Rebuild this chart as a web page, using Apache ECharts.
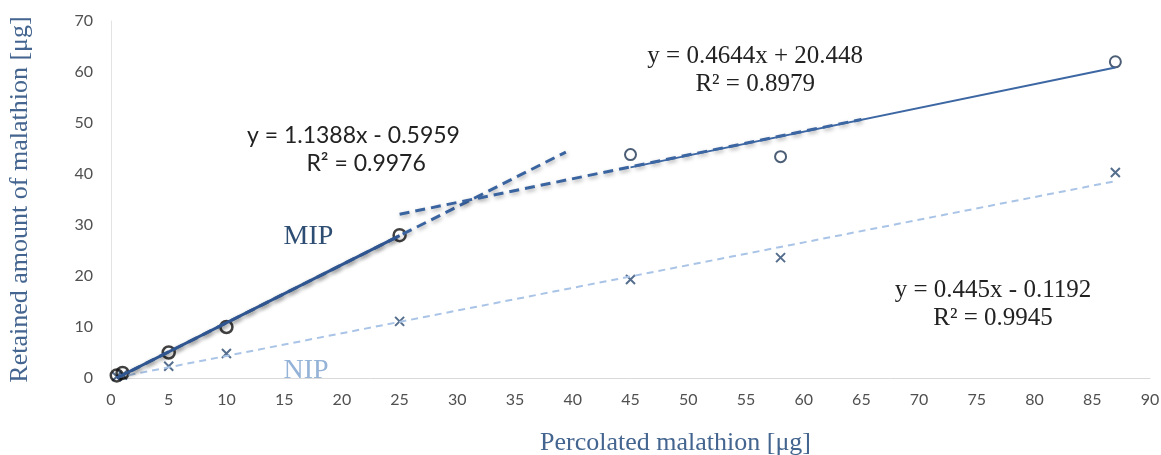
<!DOCTYPE html>
<html>
<head>
<meta charset="utf-8">
<script src="https://cdn.jsdelivr.net/npm/echarts@6/dist/echarts.min.js"></script>
<style>
html,body{margin:0;padding:0;background:#fff;}
#chart{width:1161px;height:455px;}
</style>
</head>
<body>
<div id="chart"></div>
<script>
// ---- data ----
var xTicks = [0, 90, 5];          // min, max, interval
var yTicks = [0, 70, 10];
// MIP (circles): low-range points (black) and high-range points (navy)
var mipLowX = [0.5, 1, 5, 10, 25];
var mipLowY = [0.5, 1.0, 5.0, 10.0, 28.0];
var mipHighX = [45, 58, 87];
var mipHighY = [43.8, 43.4, 62.0];
// NIP (crosses)
var nipX = [0.5, 1, 5, 10, 25, 45, 58, 87];
var nipY = [0.3, 0.6, 2.3, 4.8, 11.1, 19.3, 23.6, 40.3];
// trend line segments (end points)
var fit1Solid = [[0.5, 0.0], [25, 27.9]];
var fit1Dash = [[0.5, 0.0], [39.4, 44.3]];
var fit2Dash = [[25, 32.1], [65, 50.7]];
var fit2Solid = [[45, 41.3], [87, 60.9]];
var fitNip = [[0.5, 0.1], [87, 38.6]];
// annotation texts and their anchor positions (data coords)
var eqTexts = ['y = 1.1388x - 0.5959', 'R² = 0.9976', 'y = 0.4644x + 20.448', 'R² = 0.8979', 'y = 0.445x - 0.1192', 'R² = 0.9945'];
var eqPos = [[21.0, 47.5], [22.1, 42.0], [55.8, 63.0], [55.8, 57.5], [76.4, 17.1], [76.4, 11.6]];
var eqSerif = [false, false, true, true, true, true];
var seriesLabels = ['MIP', 'NIP'];
var seriesLabelPos = [[17.1, 27.7], [16.9, 1.4]];

function zip(xs, ys) { return xs.map(function (x, i) { return [x, ys[i]]; }); }

var chart = echarts.init(document.getElementById('chart'), null, {renderer: 'canvas'});
var shadow = {shadowBlur: 4, shadowColor: 'rgba(0,0,0,0.35)', shadowOffsetX: 1, shadowOffsetY: 2};
var crossPath = 'path://M0,0L10,10M10,0L0,10';

var option = {
  animation: false,
  grid: {left: 111, right: 11, top: 21, bottom: 77, outerBoundsMode: 'none', containLabel: false},
  xAxis: {
    type: 'value', min: xTicks[0], max: xTicks[1], interval: xTicks[2],
    name: 'Percolated malathion [μg]', nameLocation: 'middle', nameGap: 52,
    nameTextStyle: {fontFamily: 'Liberation Serif', fontSize: 26, color: '#44658f', padding: [0, 0, 0, 90]},
    axisLine: {show: true, lineStyle: {color: '#d9d9d9', width: 1}},
    axisTick: {show: false},
    axisLabel: {fontFamily: 'Lato', fontSize: 16, color: '#505050', margin: 14},
    splitLine: {show: false}
  },
  yAxis: {
    type: 'value', min: yTicks[0], max: yTicks[1], interval: yTicks[2],
    name: 'Retained amount of malathion [μg]', nameLocation: 'middle', nameGap: 78, nameRotate: 90,
    nameTextStyle: {fontFamily: 'Liberation Serif', fontSize: 26, color: '#44658f'},
    axisLine: {show: true, lineStyle: {color: '#e3e3e3', width: 1}},
    axisTick: {show: false},
    axisLabel: {fontFamily: 'Lato', fontSize: 16, color: '#505050', margin: 18},
    splitLine: {show: false}
  },
  series: [
    {type: 'line', data: fitNip, symbol: 'none', silent: true,
     lineStyle: {color: '#a9c4e6', width: 2, type: [7, 5]}},
    {type: 'line', data: fit1Dash, symbol: 'none', silent: true,
     lineStyle: Object.assign({color: '#3a64a0', width: 3, type: [10, 6]}, shadow)},
    {type: 'line', data: fit2Dash, symbol: 'none', silent: true,
     lineStyle: Object.assign({color: '#3a64a0', width: 3, type: [10, 6]}, shadow)},
    {type: 'line', data: fit1Solid, symbol: 'none', silent: true,
     lineStyle: Object.assign({color: '#2f5690', width: 3}, shadow)},
    {type: 'line', data: fit2Solid, symbol: 'none', silent: true,
     lineStyle: {color: '#3d67a3', width: 2}},
    {type: 'scatter', data: zip(nipX, nipY), symbol: crossPath, symbolSize: 9,
     itemStyle: {color: 'rgba(0,0,0,0)', borderColor: '#2b4a70', borderWidth: 2}},
    {type: 'scatter', data: zip(mipLowX, mipLowY), symbol: 'circle', symbolSize: 12,
     itemStyle: {color: 'rgba(255,255,255,0)', borderColor: '#111', borderWidth: 2.5}},
    {type: 'scatter', data: zip(mipHighX, mipHighY), symbol: 'circle', symbolSize: 11,
     itemStyle: {color: 'rgba(255,255,255,0)', borderColor: '#1f3654', borderWidth: 2}}
  ]
};
chart.setOption(option);

var g = [];
eqTexts.forEach(function (t, i) {
  var p = chart.convertToPixel({gridIndex: 0}, eqPos[i]);
  g.push({type: 'text', x: p[0], y: p[1], silent: true,
    style: {text: t, textAlign: 'center', textVerticalAlign: 'middle',
      font: (eqSerif[i] ? '25px "Liberation Serif"' : '23px Lato'), fill: '#222'}});
});
var labColors = ['#2e4d73', '#95b3d7'];
seriesLabels.forEach(function (t, i) {
  var p = chart.convertToPixel({gridIndex: 0}, seriesLabelPos[i]);
  g.push({type: 'text', x: p[0], y: p[1], silent: true,
    style: {text: t, textAlign: 'center', textVerticalAlign: 'middle',
      font: '28px "Liberation Serif"', fill: labColors[i]}});
});
chart.setOption({graphic: g});
</script>
</body>
</html>
